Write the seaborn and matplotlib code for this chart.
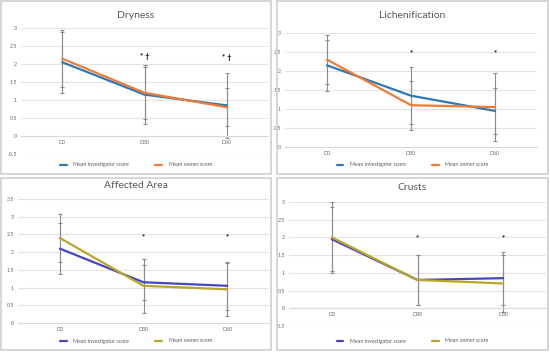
import numpy as np
import pandas as pd
import matplotlib
matplotlib.use("Agg")
import matplotlib.pyplot as plt
from matplotlib.patches import Rectangle
from matplotlib.lines import Line2D
import seaborn as sns

# dados
dias = ["D0", "D30", "D60"]
series = ["Mean investigator score", "Mean owner score"]

dryness_inv = [2.05, 1.15, 0.85]
dryness_own = [2.15, 1.20, 0.80]
dryness_inv_sd = [0.85, 0.82, 0.90]
dryness_own_sd = [0.80, 0.72, 0.53]
dryness_marks = ["", "* \u2020", "* \u2020"]
dryness_mark_y = [None, 2.22, 2.18]

lichen_inv = [2.15, 1.35, 0.95]
lichen_own = [2.30, 1.10, 1.05]
lichen_inv_sd = [0.67, 0.75, 0.60]
lichen_own_sd = [0.65, 0.65, 0.90]
lichen_marks = ["", "*", "*"]
lichen_mark_y = [None, 2.48, 2.48]

area_inv = [2.10, 1.15, 1.05]
area_own = [2.40, 1.05, 0.95]
area_inv_sd = [0.72, 0.50, 0.68]
area_own_sd = [0.68, 0.77, 0.75]
area_marks = ["", "*", "*"]
area_mark_y = [None, 2.43, 2.45]

crusts_inv = [1.95, 0.80, 0.85]
crusts_own = [2.00, 0.80, 0.70]
crusts_inv_sd = [0.90, 0.70, 0.75]
crusts_own_sd = [1.00, 0.70, 0.80]
crusts_marks = ["", "*", "*"]
crusts_mark_y = [None, 1.98, 1.98]

sns.set_style("white")
plt.rcParams["font.family"] = ["Lato", "DejaVu Sans"]

W, H = 550, 353
fig = plt.figure(figsize=(5.5, 3.53), dpi=100)


def px(x0, y0, x1, y1):
    return [x0 / W, 1 - y1 / H, (x1 - x0) / W, (y1 - y0) / H]


def painel(frame, area, titulo, inv, own, inv_sd, own_sd, marks, mark_y, ylim, cores, title_y):
    # moldura cinza do painel
    fx0, fy0, fx1, fy1 = frame
    fig.patches.append(Rectangle((fx0 / W, 1 - fy1 / H), (fx1 - fx0) / W, (fy1 - fy0) / H,
                                 transform=fig.transFigure, fill=False,
                                 edgecolor="#d0d0d0", linewidth=1.2))
    ax = fig.add_axes(px(*area))
    df = pd.DataFrame({
        "dia": dias * 2,
        "x": list(range(len(dias))) * 2,
        "score": inv + own,
        "serie": [series[0]] * len(dias) + [series[1]] * len(dias),
    })
    xs = np.arange(len(dias))
    ax.errorbar(xs, inv, yerr=inv_sd, fmt="none", ecolor="#8c8c8c", elinewidth=0.8,
                capsize=1.3, capthick=0.8, zorder=2)
    ax.errorbar(xs, own, yerr=own_sd, fmt="none", ecolor="#8c8c8c", elinewidth=0.8,
                capsize=1.3, capthick=0.8, zorder=2)
    sns.lineplot(data=df, x="x", y="score", hue="serie", palette=cores, ax=ax,
                 linewidth=1.6, legend=False, zorder=3)
    for i, (m, my) in enumerate(zip(marks, mark_y)):
        if m:
            ax.text(i, my, m, ha="center", va="center", fontsize=5.5, color="#111111",
                    fontweight="bold")
    ax.set_xlim(-0.5, len(dias) - 0.5)
    ax.set_ylim(*ylim)
    ax.set_yticks(np.arange(ylim[0], ylim[1] + 0.01, 0.5))
    ax.set_yticklabels([f"{v:g}" for v in np.arange(ylim[0], ylim[1] + 0.01, 0.5)])
    ax.set_xticks(xs)
    ax.set_xticklabels(dias)
    ax.grid(axis="y", color="#e3e3e3", linewidth=0.8)
    ax.set_axisbelow(True)
    for s in ["top", "right", "left"]:
        ax.spines[s].set_visible(False)
    ax.spines["bottom"].set_position(("data", 0))
    ax.spines["bottom"].set_color("#d9d9d9")
    ax.spines["bottom"].set_linewidth(0.8)
    ax.tick_params(axis="both", length=0, labelsize=3.8, labelcolor="#666666", pad=3)
    ax.set_xlabel("")
    ax.set_ylabel("")
    ax.set_facecolor("none")
    cx = (fx0 + fx1) / 2
    fig.text(cx / W, 1 - title_y / H, titulo, ha="center", va="center", fontsize=7.5,
             color="#595959")
    hs = [Line2D([0], [0], color=c, linewidth=1.6) for c in cores]
    fig.legend(hs, series, loc="center", bbox_to_anchor=(cx / W, 1 - (fy1 - 9) / H),
               ncol=2, frameon=False, fontsize=3.8, handlelength=1.3, handletextpad=1.2,
               columnspacing=5, labelcolor="#595959")
    return ax


azul_lar = ["#2f78b8", "#ee7b36"]
azul_oli = ["#4646c0", "#b9a52a"]

painel((1, 1, 271, 174), (21, 28, 268, 154), "Dryness", dryness_inv, dryness_own,
       dryness_inv_sd, dryness_own_sd, dryness_marks, dryness_mark_y, (-0.5, 3), azul_lar, 15)
painel((277, 1, 548, 174), (285, 33, 537, 147), "Lichenification", lichen_inv, lichen_own,
       lichen_inv_sd, lichen_own_sd, lichen_marks, lichen_mark_y, (0, 3), azul_lar, 15)
painel((1, 178, 271, 350), (18, 199, 269, 323), "Affected Area", area_inv, area_own,
       area_inv_sd, area_own_sd, area_marks, area_mark_y, (0, 3.5), azul_oli, 186)
painel((277, 178, 548, 350), (289, 202, 546, 326), "Crusts", crusts_inv, crusts_own,
       crusts_inv_sd, crusts_own_sd, crusts_marks, crusts_mark_y, (-0.5, 3), azul_oli, 188)

fig.savefig("out.png", dpi=100)
